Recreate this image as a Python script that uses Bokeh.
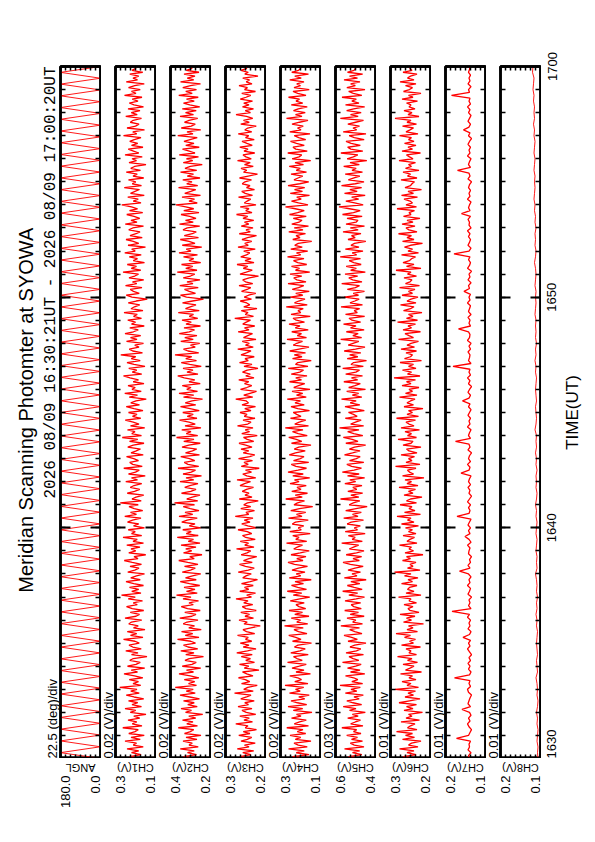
import numpy as np
from bokeh.plotting import figure
from bokeh.models import Range1d, FixedTicker, LinearAxis, Grid
from bokeh.layouts import row, column
from bokeh.embed import file_html
from bokeh.resources import INLINE
from bokeh.core.properties import value

FONT = "Liberation Sans"

title_text = "Meridian Scanning Photomter at SYOWA"
subtitle_text = "2026 08/09 16:30:21UT - 2026 08/09 17:00:20UT"
time_axis_label = "TIME(UT)"
time_tick_values = [0, 10, 20, 30]          # minutes after 16:30 UT
time_tick_labels = ["1630", "1640", "1650", "1700"]
time_minor_ticks = list(range(0, 31))

panel_names = ["ANGL", "CH1(V)", "CH2(V)", "CH3(V)", "CH4(V)", "CH5(V)", "CH6(V)", "CH7(V)", "CH8(V)"]
panel_scales = ["22.5 (deg)/div", "0.02 (V)/div", "0.02 (V)/div", "0.02 (V)/div", "0.02 (V)/div",
                "0.03 (V)/div", "0.01 (V)/div", "0.01 (V)/div", "0.01 (V)/div"]
panel_top = [180.0, 0.30, 0.40, 0.32, 0.30, 0.62, 0.28, 0.18, 0.16]
panel_bottom = [0.0, 0.14, 0.24, 0.16, 0.14, 0.38, 0.20, 0.10, 0.08]

# scan angle (deg), turning points of the meridian scan
ang_deg = [0, 180, 0, 180, 0, 180, 0, 180, 0, 180, 0, 180, 0, 180, 0, 180, 0, 180, 0, 180,
           0, 180, 0, 180, 0, 180, 0, 180, 0, 180, 0, 180, 0, 180, 0, 180, 0, 180, 0, 180,
           0, 180, 0, 180, 0, 180, 0, 180, 0, 180, 0, 180, 0, 180, 0, 180, 0, 180, 0, 180,
           0, 180, 0, 180, 0, 180, 0, 180, 0, 180, 0, 180, 0, 180, 0, 180, 0, 180, 0, 180,
           0, 180, 0, 180, 0, 180, 0, 180, 0, 180, 0, 180, 0, 180, 0, 180, 0, 180, 0, 180,
           0, 180, 0, 180, 0, 180, 0, 180, 0, 180, 0, 180, 0, 180, 0, 180, 0, 180, 0]

# channel outputs in mV (5 s samples)
ch1_mv = [221,243,198,236,207,254,189,229,216,262,201,238,185,247,222,209,271,194,233,215,
          250,203,227,178,241,219,262,196,234,211,248,187,226,257,205,239,214,283,199,230,
          208,245,191,224,266,212,237,183,252,218,201,243,229,174,236,210,259,197,231,246,
          205,222,268,190,240,215,253,182,228,209,247,236,195,262,218,204,241,187,233,256,
          213,229,192,249,221,276,198,235,207,244,188,227,258,201,239,216,184,251,223,206,
          242,196,233,265,210,226,179,247,219,238,202,255,188,230,213,270,195,236,221,249,
          184,228,207,252,232,198,263,216,240,191,225,246,209,281,197,234,218,187,253,224,
          203,241,226,195,259,212,236,181,248,220,205,267,193,231,243,208,227,256,189,238,
          217,200,251,229,186,244,211,273,196,235,222,252,183,240,206,229,261,199,232,214,
          248,190,226,257,204,239,218,177,245,212,263,197,234,221,250,186,229,208,242,268,
          195,233,215,247,182,226,254,201,237,219,279,192,231,245,206,223,188,256,214,240,
          199,262,228,209,243,185,236,220,251,196,228,213,266,190,238,224,203,249,217,173,
          234,257,205,228,241,194,260,215,232,187,246,223,208,270,199,237,216,253,184,229,
          212,245,197,263,221,235,180,250,207,229,258,193,242,218,202,247,231,188,261,214,
          238,203,226,255,191,244,212,236,275,198,229,209,251,185,240,222,204,265,196,233,
          219,248,187,230,213,257,200,239,224,178,246,216,234,193,262,207,228,249,190,236,
          211,243,225,198,268,215,231,184,254,220,206,241,229,196,259,213,237,202,250,188,
          226,245,210,233,194,264,218,236,201,248,223,185,257,212,230,207,243,191,234,219,221]
ch2_mv = [318,347,296,332,305,361,289,326,313,350,294,338,278,344,321,307,369,292,335,310,
          352,299,327,271,340,316,358,293,331,305,348,284,323,362,301,337,309,381,296,328,
          303,345,287,321,366,308,336,279,353,314,297,342,325,268,339,306,359,291,330,348,
          300,319,372,286,341,311,356,277,327,304,349,334,290,363,315,298,343,281,332,357,
          309,326,288,350,318,376,293,336,302,346,283,324,361,297,340,312,279,353,320,301,
          344,290,331,367,305,323,274,348,315,339,298,358,282,329,308,373,289,337,317,351,
          279,325,302,355,333,293,366,311,342,286,321,349,304,384,291,335,313,282,356,319,
          298,343,323,290,362,307,338,276,350,317,300,370,287,330,345,303,324,359,284,340,
          312,295,354,327,281,347,306,376,291,337,318,355,278,342,301,326,364,294,333,309,
          351,285,322,360,299,341,314,272,348,307,366,292,335,318,353,281,326,303,345,371,
          290,334,310,350,277,323,357,296,339,315,382,287,330,348,301,320,283,359,309,343,
          294,365,325,304,346,280,338,317,354,291,325,308,369,285,340,321,298,352,312,268,
          336,360,300,325,344,289,363,310,334,282,349,320,303,373,294,339,311,356,279,326,
          307,348,292,366,318,337,275,353,302,326,361,288,345,313,297,350,333,283,364,309,
          340,298,323,358,286,347,307,339,378,293,326,304,354,280,343,319,299,368,291,335,
          314,351,282,333,308,360,295,342,321,273,349,311,336,288,365,302,325,352,285,339,
          306,346,322,293,371,310,334,279,357,317,301,344,326,291,362,308,340,297,353,283,
          323,348,305,336,289,367,313,339,296,351,320,280,360,307,333,302,346,286,337,314,320]
ch3_mv = [238,262,219,251,207,273,226,244,201,258,233,215,267,222,249,196,241,230,279,212,
          246,225,263,199,237,254,214,270,228,243,205,259,236,218,284,209,247,231,193,256,
          223,241,268,210,235,252,186,245,227,264,204,239,220,257,213,275,232,198,249,226,
          261,215,240,229,272,203,236,250,218,181,246,233,266,208,242,224,259,197,238,253,
          211,247,230,278,216,235,200,263,227,244,209,256,221,192,251,238,217,269,229,205,
          240,264,213,248,226,195,257,234,219,276,206,243,228,261,201,239,252,215,233,270,
          197,231,255,222,245,210,281,227,238,204,259,219,247,232,189,265,214,242,226,253,
          236,208,262,244,220,274,199,235,251,216,240,185,257,229,246,212,268,223,203,249,
          227,258,214,239,266,207,233,248,193,255,224,241,210,272,231,218,250,202,245,234,
          262,218,243,200,254,228,237,279,211,247,222,196,260,235,215,244,227,267,206,239,
          221,252,233,190,246,214,264,229,242,205,258,236,218,271,209,240,225,253,198,248,
          231,212,269,226,244,203,251,237,220,283,208,241,230,257,194,247,223,235,261,216,
          245,228,199,256,234,219,266,211,240,251,225,188,262,237,213,249,231,274,206,242,
          218,259,236,223,247,201,270,229,243,215,254,232,196,265,221,238,210,257,227,244,
          207,250,231,276,214,239,226,261,198,245,233,219,268,212,241,255,204,236,222,253,
          242,216,264,229,192,248,235,258,209,244,221,272,217,238,250,203,246,230,263,213,
          234,254,205,240,227,269,215,243,231,197,259,225,248,211,236,278,220,241,208,252,
          226,247,212,261,238,219,255,200,244,232,266,214,237,224,251,190,243,229,258,235,240]
ch4_mv = [214,251,186,237,205,268,193,229,246,178,241,219,262,199,233,210,275,188,245,224,
          197,256,218,236,174,249,211,270,195,232,258,203,227,185,264,221,240,207,282,190,
          243,216,231,263,180,238,206,254,225,197,272,213,234,248,189,259,222,201,244,230,
          176,252,218,239,267,194,228,246,209,284,191,235,220,257,186,243,212,266,199,226,
          238,205,261,223,183,249,215,273,196,231,256,208,242,177,265,219,237,202,254,228,
          192,244,270,210,235,198,258,221,185,247,233,212,276,195,239,226,251,181,263,217,
          229,207,253,240,189,268,214,236,199,259,224,171,246,232,204,279,213,241,192,255,
          218,234,197,262,226,244,183,251,209,270,230,196,238,257,187,248,221,206,265,240,
          201,245,227,178,256,215,237,267,193,229,252,210,281,188,243,225,199,260,218,235,
          249,184,231,258,205,242,220,273,197,236,211,254,182,247,228,203,264,216,239,194,
          257,223,208,269,190,240,231,177,252,214,245,200,263,226,186,249,235,212,274,196,
          233,216,255,189,241,222,266,204,237,250,181,258,219,230,209,277,193,244,227,202,
          261,211,239,185,253,228,207,270,198,234,247,215,262,183,240,224,256,195,231,248,
          206,272,219,236,191,259,213,243,229,175,251,222,238,200,267,210,245,188,255,226,
          214,249,197,264,232,205,241,280,190,228,256,217,235,184,261,212,244,203,270,223,
          187,246,230,211,258,196,237,221,265,208,242,179,253,226,215,271,193,239,250,205,
          236,260,199,227,245,182,263,218,232,209,254,224,190,276,214,240,201,248,229,193,
          257,211,238,224,268,198,231,250,185,246,220,235,206,263,217,243,188,255,228,220,220]
ch5_mv = [496,541,462,518,475,566,449,507,531,458,524,488,553,467,512,493,582,455,529,501,
          470,547,484,519,441,536,497,574,463,515,552,478,509,453,561,492,527,471,593,457,
          522,486,511,560,444,530,473,548,499,466,578,480,514,539,452,557,494,468,533,505,
          437,545,489,523,569,461,504,535,476,588,458,517,498,551,448,532,482,565,465,510,
          526,469,563,496,446,540,487,577,460,508,549,474,528,436,567,491,521,470,545,503,
          454,531,575,477,515,463,556,494,449,537,512,481,583,459,520,502,543,442,562,488,
          507,471,550,526,452,571,485,518,465,559,497,430,538,513,474,590,480,528,457,546,
          492,516,461,564,499,534,445,548,478,579,509,464,523,552,450,536,495,472,566,518,
          473,537,506,439,558,485,520,573,456,510,547,479,596,451,529,500,466,561,490,512,
          542,447,508,563,474,532,496,584,462,519,481,553,440,541,503,471,570,487,524,458,
          559,498,476,577,453,527,511,434,550,486,535,468,568,500,443,544,515,480,589,463,
          516,484,555,448,530,497,572,469,521,539,445,560,489,508,475,587,458,533,504,478,
          568,482,514,446,549,501,476,583,461,517,540,487,563,441,529,495,556,466,510,538,
          470,592,493,520,455,561,479,527,506,438,545,502,524,467,575,484,531,446,557,497,
          485,551,460,578,512,472,536,599,454,505,558,481,523,442,566,490,534,463,584,501,
          449,543,509,474,562,458,521,496,571,477,533,432,550,513,486,588,456,528,547,471,
          526,557,448,507,538,437,574,493,515,476,546,499,452,591,484,530,466,553,511,445,
          560,479,522,495,581,462,513,541,443,552,501,529,473,569,488,536,457,548,509,500,500]
ch6_mv = [241,254,229,247,233,262,225,244,238,219,256,232,250,236,268,227,246,240,231,259,
          222,249,237,244,216,253,235,248,228,263,242,221,251,234,245,230,271,224,247,239,
          257,229,243,236,260,218,250,241,233,255,226,246,237,266,228,243,239,249,220,258,
          234,242,230,252,240,269,226,247,235,244,214,254,238,248,231,261,223,241,245,235,
          253,228,243,239,264,219,249,233,246,242,227,258,236,245,225,252,239,272,221,246,
          235,241,229,256,240,248,215,251,234,243,238,262,227,247,241,232,255,229,244,236,
          250,224,258,233,246,239,267,220,252,231,243,237,261,228,248,240,217,253,235,244,
          230,263,225,247,238,251,213,256,234,242,246,229,270,221,249,237,244,232,259,227,
          243,248,219,255,239,235,265,228,246,238,251,222,259,233,243,249,230,268,224,247,
          236,244,215,253,234,247,240,231,262,227,250,236,243,223,257,239,248,230,273,221,
          246,238,256,229,244,234,261,218,252,240,236,249,228,259,232,247,239,224,264,234,
          243,251,220,255,238,245,230,266,226,248,235,244,217,254,240,233,260,229,247,239,
          225,257,236,244,231,262,222,250,241,237,253,228,246,239,269,219,248,233,255,242,
          238,230,258,224,245,236,252,240,216,256,233,247,238,264,227,243,249,231,257,235,
          247,221,254,239,243,232,267,228,249,236,241,253,226,258,234,245,218,251,240,237,
          232,259,227,246,240,255,223,250,238,244,230,263,235,242,248,220,257,236,245,229,
          252,233,244,238,262,225,249,241,234,256,228,247,239,271,223,245,237,253,231,243,
          239,248,226,257,235,244,219,254,242,236,250,229,261,233,246,240,227,255,237,241,240]
ch7_mv = [131,134,129,135,132,133,130,158,134,131,128,133,136,131,134,129,132,147,130,135,
          133,131,128,134,136,130,133,131,162,132,129,134,131,135,130,133,128,132,136,131,
          134,130,145,132,129,135,131,133,130,136,132,167,129,134,131,133,128,135,132,130,
          136,131,133,129,134,152,131,135,130,132,128,134,133,131,136,129,133,141,131,134,
          130,135,132,129,157,133,131,134,130,136,132,128,133,131,135,130,134,132,129,149,
          133,131,136,130,134,132,128,135,131,133,160,130,134,132,129,136,131,133,130,135,
          132,129,134,131,146,133,130,135,132,128,134,131,136,130,133,131,165,129,134,132,
          131,135,130,133,129,136,132,131,134,154,130,133,131,135,129,134,132,130,136,131,
          133,130,143,132,134,129,135,131,133,128,136,132,130,134,131,163,133,129,135,132,
          130,134,131,136,129,133,132,135,130,148,131,134,132,129,136,131,133,130,134,132,
          128,135,131,133,156,130,134,132,129,136,131,133,130,135,132,128,134,131,144,133,
          130,135,132,129,134,131,136,130,133,131,168,132,134,129,135,131,133,130,134,132,131]
ch8_mv = [85,86,85,87,86,85,87,86,88,86,85,87,86,87,89,86,87,88,86,87,
          88,87,86,88,87,89,87,88,86,88,87,88,90,87,88,87,89,88,87,89,
          88,87,89,88,90,88,87,89,88,89,87,89,88,90,88,89,88,91,89,88,
          89,90,88,89,90,89,88,90,89,91,89,90,88,90,89,90,89,91,90,89,
          90,89,91,90,89,90,92,90,89,91,90,91,89,91,90,92,91,93,92,91,
          92,91,93,92,91,93,92,91,93,92,94,92,93,92,94,93,95,94,93,96,95]

series = [np.array(ang_deg, dtype=float)] + [np.array(s, dtype=float) / 1000.0 for s in
          (ch1_mv, ch2_mv, ch3_mv, ch4_mv, ch5_mv, ch6_mv, ch7_mv, ch8_mv)]

TOP = 66          # page y of panel tops
FRAME_H = 692     # 16:30 -> 17:00
PANEL_W = 40
GAP_W = 13
LABEL_H = 50      # strip under each panel (pixels)
TXT = dict(text_font=value(FONT), text_color="black")


def clean(p):
    p.background_fill_color = "white"
    p.border_fill_color = "white"
    p.outline_line_color = None
    for r in list(p.center):
        if isinstance(r, Grid):
            r.visible = False


def text_fig(width, left=0, right=0):
    p = figure(frame_width=width, frame_height=FRAME_H, output_backend="svg",
               toolbar_location=None, x_range=Range1d(0, width), y_range=Range1d(0, 30),
               x_axis_location=None, y_axis_location=None,
               min_border_left=left, min_border_right=right, min_border_top=TOP,
               min_border_bottom=0)
    clean(p)
    return p


def hidden_labels(ax):
    ax.major_label_text_font_size = "0px"
    ax.major_label_standoff = 0


# left column: title, date range, scale of the angle panel
left = text_fig(51, left=8)
left.text(x=[17], y=[15.1], text=[title_text], angle=np.pi / 2, text_align="center",
          text_baseline="middle", text_font_size="20px", **TXT)
left.text(x=[42.5], y=[30], text=[subtitle_text], angle=np.pi / 2, text_align="right",
          text_baseline="middle", text_font_size="16px",
          text_font=value("Liberation Mono"), text_color="black")

items = [left]
n = len(series)
for i in range(n):
    top, bot = panel_top[i], panel_bottom[i]
    vals = series[i]
    t = np.linspace(0, 30, len(vals))
    xr = Range1d(top, bot)

    if i == 0:
        left.text(x=[44], y=[0], text=[panel_scales[0]], angle=np.pi / 2, text_align="left",
                  text_baseline="middle", text_font_size="13px", **TXT)
    else:
        g = text_fig(GAP_W)
        g.text(x=[GAP_W / 2], y=[0], text=[panel_scales[i]], angle=np.pi / 2,
               text_align="left", text_baseline="middle", text_font_size="13px", **TXT)
        items.append(g)

    p = figure(frame_width=PANEL_W, frame_height=FRAME_H, output_backend="svg",
               toolbar_location=None, x_range=xr, y_range=Range1d(0, 30),
               x_axis_location=None, y_axis_location=None,
               min_border_left=1, min_border_right=1, min_border_top=TOP, min_border_bottom=0)
    clean(p)
    p.outline_line_color = "black"
    p.outline_line_width = 2.5
    lw = 0.9 if i in (0, n - 1) else 1.3
    p.line(vals, t, line_color="#ff0000", line_width=lw)

    div_ticks = list(np.linspace(bot, top, 9))
    for side in ("below", "above"):
        ax = LinearAxis(ticker=FixedTicker(ticks=[bot, top], minor_ticks=div_ticks),
                        axis_line_width=2.5, axis_line_color="black",
                        major_tick_in=4, major_tick_out=0, minor_tick_in=4, minor_tick_out=0,
                        major_tick_line_width=1.5, minor_tick_line_width=1.5)
        hidden_labels(ax)
        p.add_layout(ax, side)
    for side in ("left", "right"):
        ax = LinearAxis(ticker=FixedTicker(ticks=time_tick_values, minor_ticks=time_minor_ticks),
                        axis_line_width=2.5, axis_line_color="black",
                        major_tick_in=10, major_tick_out=0, minor_tick_in=5, minor_tick_out=0,
                        major_tick_line_width=2, minor_tick_line_width=1.5)
        hidden_labels(ax)
        p.add_layout(ax, side)

    # label strip under the panel: upside-down channel name + end values of the scale
    lab = figure(frame_width=PANEL_W, frame_height=LABEL_H, output_backend="svg",
                 toolbar_location=None, x_range=xr, y_range=Range1d(0, LABEL_H),
                 x_axis_location=None, y_axis_location=None,
                 min_border_left=1, min_border_right=1, min_border_top=0, min_border_bottom=0)
    clean(lab)
    lab.text(x=[(top + bot) / 2], y=[LABEL_H - 3], text=[panel_names[i]], angle=np.pi,
             text_align="center", text_baseline="bottom", text_font_size="11px", **TXT)
    lab.text(x=[top], y=[LABEL_H - 17], text=[f"{top:.1f}"], angle=np.pi / 2,
             text_align="right", text_baseline="top", text_font_size="13px", **TXT)
    lab.text(x=[bot], y=[LABEL_H - 17], text=[f"{bot:.1f}"], angle=np.pi / 2, x_offset=-1,
             text_align="right", text_baseline="bottom", text_font_size="13px", **TXT)
    items.append(column(p, lab))

# right column: time tick labels (axis on the left of this column) and axis title
right = figure(frame_width=30, frame_height=FRAME_H, output_backend="svg",
               toolbar_location=None, x_range=Range1d(0, 30), y_range=Range1d(0, 30),
               x_axis_location=None, y_axis_location=None,
               min_border_left=16, min_border_right=8, min_border_top=TOP, min_border_bottom=0)
clean(right)
tax = LinearAxis(ticker=FixedTicker(ticks=time_tick_values),
                 major_label_overrides=dict(zip(time_tick_values, time_tick_labels)),
                 axis_line_color=None, major_tick_in=0, major_tick_out=0,
                 minor_tick_in=0, minor_tick_out=0,
                 major_label_orientation="parallel", major_label_standoff=1,
                 major_label_text_font=FONT, major_label_text_font_size="13px",
                 major_label_text_color="black")
right.add_layout(tax, "left")
right.text(x=[15], y=[15], text=[time_axis_label], angle=np.pi / 2, text_align="center",
           text_baseline="middle", text_font_size="17px", **TXT)
items.append(right)

layout = row(*items)
open("out.html", "w").write(file_html(layout, INLINE))
